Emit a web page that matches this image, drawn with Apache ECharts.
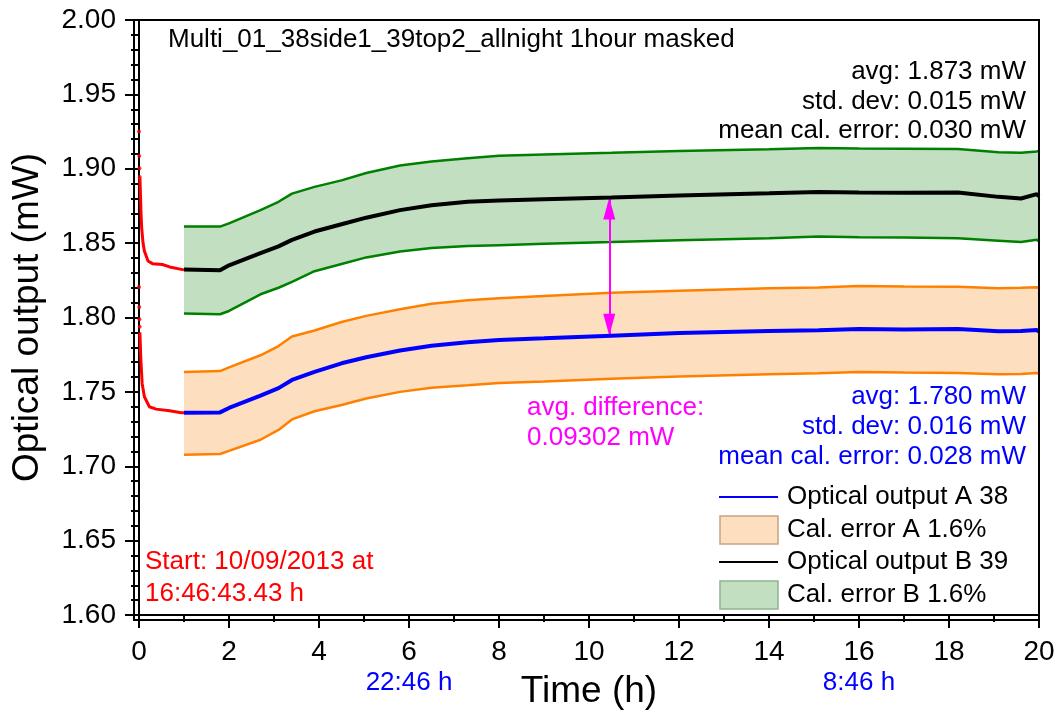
<!DOCTYPE html>
<html>
<head>
<meta charset="utf-8">
<script src="https://cdn.jsdelivr.net/npm/echarts@6/dist/echarts.min.js"></script>
<style>
  html, body { margin: 0; background: #fff; }
  #chart { width: 1060px; height: 715px; }
</style>
</head>
<body>
<div id="chart"></div>
<script>
// first hour (warm-up), drawn in red
var warmDotsA = [[0, 1.8205], [0.005, 1.8071], [0.01, 1.7989], [0.015, 1.7938]];
var warmLineA = [[0.02, 1.79], [0.04, 1.7725], [0.07, 1.7555], [0.12, 1.7467], [0.23, 1.740],
    [0.38, 1.7384], [0.68, 1.7373], [0.94, 1.736], [1.0, 1.736]];
var warmDotsB = [[0, 1.925], [0.005, 1.9085], [0.01, 1.9004], [0.015, 1.8944]];
var warmLineB = [[0.02, 1.894], [0.03, 1.8856], [0.045, 1.87], [0.06, 1.86], [0.09, 1.85],
    [0.12, 1.8447], [0.2, 1.838], [0.3, 1.8362], [0.52, 1.8356], [0.68, 1.834], [0.97, 1.8322], [1.0, 1.832]];

// masked part, hour 1 to 20
var hours   = [1.0, 1.8, 2.0, 2.7, 3.1, 3.4, 3.9, 4.5, 5.05, 5.8, 6.5, 7.3, 8.0, 9.0, 10.5, 12.0, 14.0, 15.1, 16.0, 17.0, 18.2, 19.1, 19.6, 19.95, 20.0];
var outputA = [1.736, 1.7362, 1.7392, 1.7475, 1.7525, 1.758, 1.7635, 1.7692, 1.7733, 1.7778, 1.781, 1.7833, 1.7849, 1.786, 1.7878, 1.7895, 1.791, 1.7915, 1.7922, 1.792, 1.7922, 1.7907, 1.791, 1.7916, 1.7905];
var calHiA  = [1.7633, 1.764, 1.7665, 1.7746, 1.7808, 1.7872, 1.7913, 1.797, 1.8011, 1.8056, 1.8092, 1.8116, 1.8129, 1.8145, 1.8167, 1.818, 1.8196, 1.8202, 1.8211, 1.8209, 1.8207, 1.8196, 1.82, 1.8204, 1.8195];
var calLoA  = [1.7078, 1.7082, 1.7103, 1.7178, 1.7244, 1.7315, 1.737, 1.7412, 1.7456, 1.75, 1.7528, 1.7544, 1.756, 1.757, 1.7589, 1.7603, 1.7618, 1.7625, 1.7633, 1.763, 1.7627, 1.7618, 1.762, 1.7627, 1.762];
var outputB = [1.8322, 1.8318, 1.8351, 1.8433, 1.8478, 1.8522, 1.8578, 1.8627, 1.8671, 1.8722, 1.8755, 1.8778, 1.8787, 1.8795, 1.8807, 1.882, 1.8835, 1.8844, 1.884, 1.8838, 1.884, 1.8811, 1.880, 1.8829, 1.8816];
var calHiB  = [1.8611, 1.8611, 1.8633, 1.8722, 1.8778, 1.8833, 1.8878, 1.8922, 1.8971, 1.9022, 1.9049, 1.9071, 1.9087, 1.9096, 1.9107, 1.912, 1.9131, 1.914, 1.9136, 1.9135, 1.9133, 1.9111, 1.9107, 1.9116, 1.912];
var calLoB  = [1.8027, 1.8022, 1.8044, 1.8156, 1.82, 1.824, 1.8311, 1.836, 1.8404, 1.8444, 1.8467, 1.848, 1.8486, 1.8495, 1.8507, 1.852, 1.8533, 1.8544, 1.854, 1.8538, 1.8533, 1.8516, 1.8507, 1.8522, 1.851];

// avg. difference arrow
var diffTime = 10.45, diffTop = 1.8807, diffBottom = 1.7878;

// clock times under the time axis
var clockHours = [6, 16];
var clockText = ['22:46 h', '8:46 h'];

var FONT = '"Liberation Sans", Arial, sans-serif';

function pairs(ys) {
    return hours.map(function (t, i) { return [t, ys[i]]; });
}

function band(hi, lo, color) {
    return {
        type: 'custom',
        silent: true,
        z: 1,
        data: [[hours[0], hi[0]]],
        renderItem: function (params, api) {
            var pts = [];
            for (var i = 0; i < hours.length; i++) pts.push(api.coord([hours[i], hi[i]]));
            for (var j = hours.length - 1; j >= 0; j--) pts.push(api.coord([hours[j], lo[j]]));
            return { type: 'polygon', shape: { points: pts }, style: { fill: color } };
        }
    };
}

function edge(ys, color, w, z) {
    return {
        type: 'line', data: pairs(ys), showSymbol: false, silent: true, z: z,
        lineStyle: { color: color, width: w }
    };
}

function redLine(d) {
    return { type: 'line', data: d, showSymbol: false, silent: true, z: 5,
        lineStyle: { color: '#ff0000', width: 3 } };
}

function redDots(d) {
    return { type: 'scatter', data: d, symbolSize: 4, silent: true, z: 5,
        itemStyle: { color: '#ff0000' } };
}

function txt(x, y, s, color, align) {
    return { type: 'text', x: x, y: y, z: 20,
        style: { text: s, fill: color, font: '26px ' + FONT, align: align || 'left', verticalAlign: 'middle' } };
}

var chart = echarts.init(document.getElementById('chart'));

var option = {
    animation: false,
    textStyle: { fontFamily: FONT },
    grid: { left: 139, top: 20, width: 900, height: 600 },
    xAxis: [{
        type: 'value', min: 0, max: 20, interval: 2,
        name: 'Time (h)', nameLocation: 'middle', nameGap: 58,
        nameTextStyle: { fontSize: 37, color: '#000', fontFamily: FONT },
        axisLine: { lineStyle: { color: '#000', width: 2 } },
        axisTick: { length: 13, lineStyle: { width: 2, color: '#000' } },
        minorTick: { show: true, splitNumber: 2, length: 7, lineStyle: { width: 2, color: '#000' } },
        splitLine: { show: false },
        axisLabel: { fontSize: 28, color: '#000', margin: 23 }
    }, {
        type: 'value', min: 0, max: 20, interval: 2, position: 'bottom', offset: 47,
        axisLine: { show: false }, axisTick: { show: false }, splitLine: { show: false },
        axisLabel: {
            fontSize: 26, color: '#0000ff', margin: 8,
            formatter: function (v) {
                var k = clockHours.indexOf(v);
                return k < 0 ? '' : clockText[k];
            }
        }
    }],
    yAxis: {
        type: 'value', min: 1.6, max: 2.0, interval: 0.05, offset: 5,
        name: 'Optical output (mW)', nameLocation: 'middle', nameGap: 88,
        nameTextStyle: { fontSize: 37, color: '#000', fontFamily: FONT },
        axisLine: { show: true, lineStyle: { color: '#000', width: 2 } },
        axisTick: { show: true, length: 14, lineStyle: { width: 2, color: '#000' } },
        minorTick: { show: true, splitNumber: 5, length: 8, lineStyle: { width: 2, color: '#000' } },
        splitLine: { show: false },
        axisLabel: { fontSize: 28, color: '#000', margin: 18, formatter: function (v) { return v.toFixed(2); } }
    },
    series: [
        band(calHiB, calLoB, '#c2dfc2'),
        band(calHiA, calLoA, '#fddfc0'),
        edge(calHiB, '#008000', 2.5, 3),
        edge(calLoB, '#008000', 2.5, 3),
        edge(calHiA, '#ff8000', 2.5, 3),
        edge(calLoA, '#ff8000', 2.5, 3),
        redDots(warmDotsA), redLine(warmLineA),
        redDots(warmDotsB), redLine(warmLineB),
        edge(outputA, '#0000ff', 4, 6),
        {
            type: 'line', data: pairs(outputB), showSymbol: false, silent: true, z: 6,
            lineStyle: { color: '#000', width: 4 },
            markLine: {
                silent: true, symbol: 'none',
                label: { show: false },
                lineStyle: { color: '#ff00ff', width: 2, type: 'solid' },
                data: [[{ coord: [diffTime, diffTop] }, { coord: [diffTime, diffBottom] }]]
            },
            markPoint: {
                silent: true, symbol: 'triangle', symbolSize: [12, 22],
                label: { show: false },
                itemStyle: { color: '#ff00ff' },
                data: [
                    { coord: [diffTime, diffTop], symbolOffset: [0, 11] },
                    { coord: [diffTime, diffBottom], symbolRotate: 180, symbolOffset: [0, -11] }
                ]
            }
        }
    ],
    graphic: [
        { type: 'rect', z: 15, shape: { x: 134, y: 20, width: 905, height: 600 },
          style: { fill: null, stroke: '#000', lineWidth: 2 } },
        txt(168, 40, 'Multi_01_38side1_39top2_allnight 1hour masked', '#000'),
        txt(1026, 72, 'avg: 1.873 mW', '#000', 'right'),
        txt(1026, 102, 'std. dev: 0.015 mW', '#000', 'right'),
        txt(1026, 131, 'mean cal. error: 0.030 mW', '#000', 'right'),
        txt(1026, 397, 'avg: 1.780 mW', '#0000ff', 'right'),
        txt(1026, 427, 'std. dev: 0.016 mW', '#0000ff', 'right'),
        txt(1026, 457, 'mean cal. error: 0.028 mW', '#0000ff', 'right'),
        txt(527, 408, 'avg. difference:', '#ff00ff'),
        txt(527, 438, '0.09302 mW', '#ff00ff'),
        txt(145, 562, 'Start: 10/09/2013 at', '#ff0000'),
        txt(145, 594, '16:46:43.43 h', '#ff0000'),
        // legend
        { type: 'line', z: 20, shape: { x1: 719, y1: 497, x2: 778, y2: 497 }, style: { stroke: '#0000ff', lineWidth: 2 } },
        txt(787, 497, 'Optical output A 38', '#000'),
        { type: 'rect', z: 20, shape: { x: 720, y: 516, width: 58, height: 28 }, style: { fill: '#fddfc0', stroke: '#c8a47e', lineWidth: 1.5 } },
        txt(787, 530, 'Cal. error A 1.6%', '#000'),
        { type: 'line', z: 20, shape: { x1: 719, y1: 562, x2: 778, y2: 562 }, style: { stroke: '#000', lineWidth: 2 } },
        txt(787, 562, 'Optical output B 39', '#000'),
        { type: 'rect', z: 20, shape: { x: 720, y: 581, width: 58, height: 28 }, style: { fill: '#c2dfc2', stroke: '#8fb48f', lineWidth: 1.5 } },
        txt(787, 595, 'Cal. error B 1.6%', '#000')
    ]
};

chart.setOption(option);
</script>
</body>
</html>
